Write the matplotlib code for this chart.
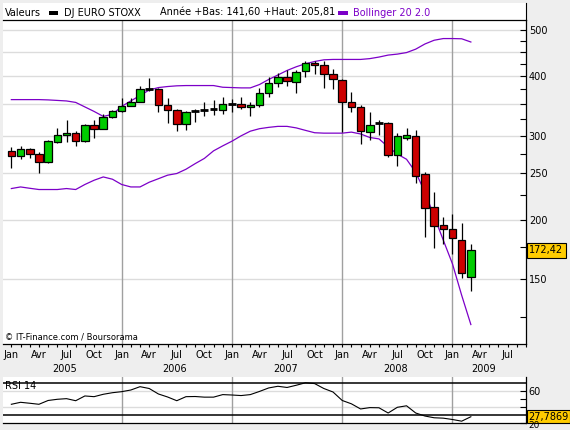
"""DJ EURO STOXX monthly candles with Bollinger bands and RSI 14 (Boursorama style)"""
import matplotlib
matplotlib.use('Agg')
import matplotlib.pyplot as plt
import matplotlib.transforms as mtrans
from matplotlib.patches import Rectangle
from matplotlib.lines import Line2D
from matplotlib.ticker import NullFormatter
import numpy as np

plt.rcParams.update({'font.family': 'DejaVu Sans', 'font.size': 7})

# ---- data (monthly, Jan 2005 .. Mar 2009) ----
month_names = ['Jan', 'Avr', 'Jul', 'Oct']
years = ['2005', '2006', '2007', '2008', '2009']

opens = [278.1, 271.4, 281.7, 274.5, 264.1, 290.8, 301.3, 304.3, 292.8, 316.2,
         310.2, 328.7, 338.3, 346.5, 353.4, 376.1, 376.1, 348.2, 340.0, 317.8,
         337.7, 339.5, 340.7, 340.0, 350.0, 349.9, 344.6, 348.2, 368.9, 387.3,
         397.4, 388.4, 409.6, 425.4, 422.1, 404.6, 393.0, 352.7, 344.3, 305.4,
         319.3, 319.3, 273.6, 296.3, 300.0, 249.6, 212.0, 194.5, 190.6, 181.5,
         151.6]
highs = [283.5, 284.8, 283.1, 277.1, 293.2, 311.7, 324.0, 306.2, 317.0, 324.0,
         333.4, 339.5, 360.3, 359.0, 381.1, 395.4, 376.8, 360.3, 340.5, 337.5,
         341.6, 352.7, 356.8, 361.4, 358.5, 361.4, 352.7, 377.1, 398.7, 406.5,
         412.4, 412.4, 431.0, 431.0, 431.0, 414.4, 393.5, 370.0, 347.0, 335.5,
         324.0, 320.5, 304.3, 311.5, 308.7, 252.2, 227.9, 202.0, 205.81, 196.2,
         177.3]
lows = [257.0, 268.5, 269.8, 250.4, 262.5, 289.0, 290.8, 285.3, 290.8, 296.5,
        309.0, 327.0, 337.0, 345.5, 352.7, 371.7, 336.0, 319.3, 306.2, 307.7,
        320.3, 329.2, 330.8, 332.4, 336.0, 341.6, 329.7, 344.3, 361.4, 379.0,
        380.9, 368.2, 398.7, 404.6, 377.1, 376.1, 305.1, 336.4, 288.6, 294.0,
        301.4, 270.6, 259.1, 294.0, 238.6, 183.9, 173.9, 177.6, 169.2, 150.9,
        141.6]
closes = [271.4, 281.7, 274.9, 264.1, 291.8, 301.3, 304.3, 292.8, 316.2, 310.2,
          328.7, 338.3, 346.5, 353.4, 376.1, 376.1, 348.2, 340.0, 317.8, 336.7,
          337.7, 339.5, 340.7, 349.9, 350.0, 344.3, 348.2, 368.9, 387.3, 397.4,
          390.3, 407.6, 425.4, 422.1, 404.6, 395.0, 352.7, 344.3, 306.6, 316.2,
          319.3, 273.6, 299.0, 300.8, 247.3, 211.0, 193.7, 190.6, 182.5, 154.1,
          172.42]

boll_upper = [357.0, 357.0, 357.0, 357.0, 356.5, 355.6, 354.7, 352.2, 344.6, 337.2,
              329.2, 332.4, 345.5, 354.7, 364.2, 373.9, 378.4, 380.3, 381.6, 382.1,
              382.1, 382.1, 382.1, 379.0, 378.4, 377.8, 377.8, 384.0, 393.5, 402.1,
              411.0, 418.4, 424.6, 429.2, 432.7, 433.5, 433.5, 433.5, 433.5, 435.2,
              438.5, 442.7, 444.8, 448.1, 455.6, 467.1, 475.6, 479.5, 479.5, 479.0,
              471.6]
boll_lower = [232.3, 234.1, 232.6, 231.2, 231.2, 231.2, 232.3, 231.2, 236.9, 241.8,
              245.7, 243.0, 236.9, 234.1, 234.1, 239.5, 243.6, 247.8, 249.8, 255.0,
              262.0, 268.7, 278.7, 285.5, 292.0, 299.7, 306.5, 310.2, 312.2, 313.7,
              313.7, 311.4, 307.7, 304.2, 303.6, 303.6, 303.6, 305.1, 302.4, 297.3,
              295.3, 284.1, 274.4, 267.6, 251.3, 228.2, 203.3, 181.0, 161.4, 138.7,
              120.4]

rsi14 = [43.5, 46.0, 44.8, 43.5, 48.3, 49.8, 50.6, 48.0, 54.0, 53.1,
         56.1, 58.1, 59.4, 61.5, 65.7, 63.4, 56.5, 52.7, 48.0, 53.1,
         53.3, 52.5, 52.5, 55.7, 55.2, 54.5, 55.7, 59.7, 64.1, 66.2,
         64.7, 67.5, 70.6, 69.6, 63.4, 59.0, 48.3, 44.1, 37.6, 39.3,
         39.1, 32.5, 39.7, 41.6, 32.5, 28.7, 26.5, 26.0, 24.3, 22.2,
         27.7869]

price_ticks = [150, 200, 250, 300, 400, 500]
price_minor = [125, 175, 225, 275, 325, 350, 375, 425, 450, 475]
price_grid = [150, 200, 250, 300, 350, 400, 450, 500]

GREEN, RED, PURPLE = '#00cc00', '#cc0000', '#7c00c8'
BG, GRID, VGRID = '#eeeeee', '#dcdcdc', '#a0a0a0'
W, H = 570, 430

months = np.arange(len(closes))
jan_lines = [12, 24, 36, 48]
xlim = (-0.91, 56.0)


def fx(px):
    return px / W


def fy(py):
    return 1 - py / H


fig = plt.figure(figsize=(W / 100, H / 100), dpi=100, facecolor=BG)

# legend strip
fig.add_artist(Rectangle((fx(3), fy(19.5)), fx(523), 16.5 / H, transform=fig.transFigure,
                         fc='white', ec='none', zorder=0))
fig.add_artist(Line2D([fx(526), fx(526)], [fy(3), fy(20)], color='black', lw=0.8))
ly = fy(12.5)
fig.text(fx(5), ly, 'Valeurs', va='center')
fig.add_artist(Rectangle((fx(49), fy(14.5)), 9 / W, 4 / H, transform=fig.transFigure,
                         fc='black', ec='none'))
fig.text(fx(64), ly, 'DJ EURO STOXX', va='center')
fig.text(fx(160), ly, 'Année +Bas: 141,60 +Haut: 205,81', va='center')
fig.add_artist(Rectangle((fx(338), fy(14.5)), 10 / W, 4 / H, transform=fig.transFigure,
                         fc=PURPLE, ec='none'))
fig.text(fx(353), ly, 'Bollinger 20 2.0', va='center', color=PURPLE)

# ---- main price panel ----
ax = fig.add_axes([fx(3), fy(344), fx(523), 324 / H])
ax.set_yscale('log')
ax.set_xlim(*xlim)
ax.set_ylim(109.6, 524.5)

for v in price_grid:
    ax.axhline(v, color=GRID, lw=1, zorder=0)
for m in jan_lines:
    ax.axvline(m, color=VGRID, lw=1, zorder=0.5)

ax.plot(months, boll_upper, color=PURPLE, lw=0.9, zorder=1)
ax.plot(months, boll_lower, color=PURPLE, lw=0.9, zorder=1)

ax.vlines(months, lows, highs, color='black', lw=0.9, zorder=2)
for m, o, c in zip(months, opens, closes):
    if o == c:
        ax.hlines(o, m - 0.42, m + 0.42, color='black', lw=2, zorder=3)
    else:
        ax.bar(m, abs(c - o), bottom=min(o, c), width=0.82, color=GREEN if c > o else RED,
               edgecolor='black', linewidth=0.9, zorder=3)

for s in ['top', 'right', 'bottom']:
    ax.spines[s].set_linewidth(0.9)
ax.spines['left'].set_visible(False)

ax.yaxis.tick_right()
ax.set_yticks(price_ticks, labels=[str(v) for v in price_ticks])
ax.set_yticks(price_minor, minor=True)
ax.yaxis.set_minor_formatter(NullFormatter())
ax.tick_params(axis='y', which='both', direction='in', length=4, width=0.8, pad=2,
               right=True, left=False, labelsize=7)

qticks = np.arange(0, 57, 3)
ax.set_xticks(qticks, labels=[month_names[(q // 3) % 4] for q in qticks])
ax.set_xticks(np.arange(0, 57), minor=True)
ax.tick_params(axis='x', which='both', direction='out', length=2, width=0.8, pad=2,
               labelsize=7)

for i, yr in enumerate(years):
    xpos = 12 * i + 5.8 if i < 4 else 51.4
    ax.text(xpos, -25 / 324, yr, transform=ax.get_xaxis_transform(), ha='center',
            va='center', fontsize=7)

fig.text(fx(5), fy(337), '© IT-Finance.com / Boursorama', fontsize=6, va='center')

btr = mtrans.blended_transform_factory(ax.transAxes, ax.transData)
ax.text(1.0065, closes[-1], f'{closes[-1]:.2f}'.replace('.', ','), transform=btr,
        ha='left', va='center', fontsize=7,
        bbox=dict(boxstyle='square,pad=0.25', fc='#ffcc00', ec='black', lw=0.8))

# ---- RSI panel ----
rx = fig.add_axes([fx(3), fy(423), fx(523), 46 / H])
rx.set_xlim(*xlim)
rx.set_ylim(19.9, 77.9)
for v in [60, 40]:
    rx.axhline(v, color=GRID, lw=1, zorder=0)
for m in jan_lines:
    rx.axvline(m, color=VGRID, lw=1, zorder=0.5)
rx.axhline(70, color='black', lw=1.1, zorder=1)
rx.axhline(30, color='black', lw=1.1, zorder=1)
rx.plot(months, rsi14, color='black', lw=0.8, zorder=2)

rx.spines['top'].set_visible(False)
rx.spines['left'].set_visible(False)
rx.spines['right'].set_linewidth(0.9)
rx.spines['bottom'].set_linewidth(0.9)
rx.set_xticks([])
rx.yaxis.tick_right()
rx.set_yticks([20, 60], labels=['', '60'])
rx.set_yticks([40, 50], minor=True)
rx.tick_params(axis='y', which='both', direction='in', length=4, width=0.8, pad=2,
               right=True, left=False, labelsize=7)
# the "20" label sits just under the yellow value box, at the image's lower edge
fig.text(fx(528), fy(429.5), '20', fontsize=6.5, va='bottom', ha='left')

fig.text(fx(5), fy(386), 'RSI 14', fontsize=7, va='center')
btr2 = mtrans.blended_transform_factory(rx.transAxes, rx.transData)
rx.text(1.0045, rsi14[-1], f'{rsi14[-1]:.4f}'.replace('.', ','), transform=btr2,
        ha='left', va='center', fontsize=7, zorder=5,
        bbox=dict(boxstyle='square,pad=0.15', fc='#ffcc00', ec='black', lw=0.8))

fig.savefig('out.png', dpi=100, facecolor=BG)
